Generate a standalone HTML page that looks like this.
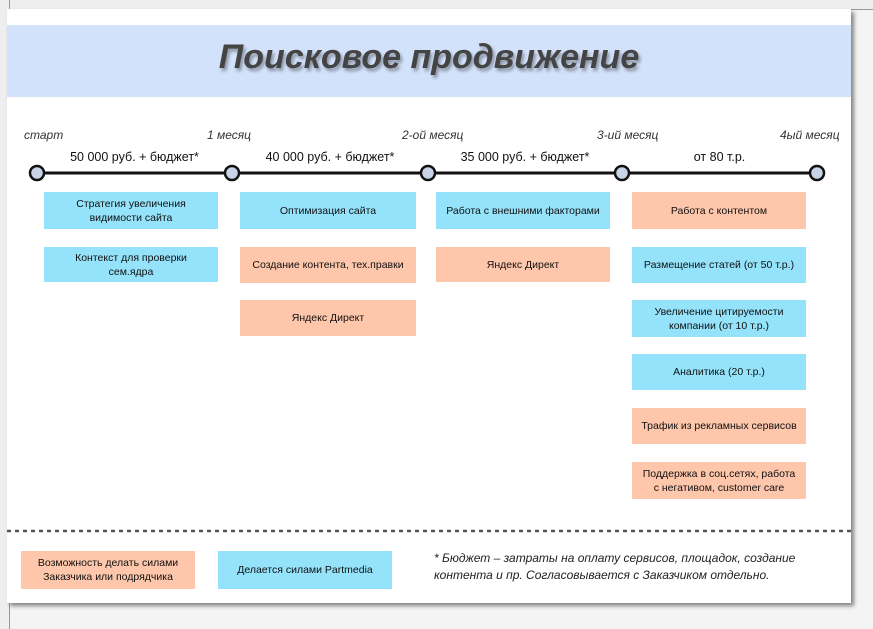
<!DOCTYPE html>
<html><head><meta charset="utf-8"><style>
body{margin:0;width:873px;height:629px;background:#f4f4f4;position:relative;overflow:hidden;font-family:"Liberation Sans","DejaVu Sans",sans-serif;}
.a{position:absolute}
.page{left:7px;top:9px;width:844px;height:594px;background:#fff;box-shadow:3px 3px 4px rgba(0,0,0,.45)}
.band{left:7px;top:25px;width:844px;height:72px;background:#d3e2fb}
.title{left:7px;top:38px;width:844px;text-align:center;font-size:34px;font-weight:bold;font-style:italic;color:#444;text-shadow:2px 3px 3px rgba(0,0,0,.35);letter-spacing:0}
.b{position:absolute;display:flex;align-items:center;justify-content:center;text-align:center;font-size:10.5px;color:#111;line-height:14px}
.bl{background:#94e3fb}.pe{background:#fec6ab}
.lab{position:absolute;font-size:12px;font-style:italic;color:#333}
.pr{position:absolute;font-size:12.5px;color:#111;text-align:center}
</style></head><body>
<div class="a" style="left:0;top:0;width:873px;height:9px;background:#eee;border-bottom:1px solid #999"></div>
<div class="a" style="left:0;top:0;width:9px;height:629px;background:#eee;border-right:1px solid #999"></div>
<div class="a page"></div>
<div class="a band"></div>
<div class="a title">Поисковое продвижение</div>

<div class="lab" style="left:24px;top:128px">старт</div>
<div class="lab" style="left:207px;top:128px">1 месяц</div>
<div class="lab" style="left:402px;top:128px">2-ой месяц</div>
<div class="lab" style="left:597px;top:128px">3-ий месяц</div>
<div class="lab" style="left:780px;top:128px">4ый месяц</div>

<div class="pr" style="left:37px;width:195px;top:150px">50 000 руб. + бюджет*</div>
<div class="pr" style="left:232px;width:196px;top:150px">40 000 руб. + бюджет*</div>
<div class="pr" style="left:428px;width:194px;top:150px">35 000 руб. + бюджет*</div>
<div class="pr" style="left:622px;width:195px;top:150px">от 80 т.р.</div>

<svg class="a" style="left:0;top:0" width="873" height="629">
<line x1="37" y1="173" x2="817" y2="173" stroke="#111" stroke-width="3"/>
<g fill="#c9d3e8" stroke="#111" stroke-width="2.5">
<circle cx="37" cy="173" r="7"/><circle cx="232" cy="173" r="7"/><circle cx="428" cy="173" r="7"/><circle cx="622" cy="173" r="7"/><circle cx="817" cy="173" r="7"/>
</g>
<line x1="7" y1="531" x2="851" y2="531" stroke="#555" stroke-width="2.5" stroke-dasharray="4,4"/>
</svg>

<div class="b bl" style="left:44px;top:192px;width:174px;height:37px">Стратегия увеличения<br>видимости сайта</div>
<div class="b bl" style="left:44px;top:247px;width:174px;height:35px">Контекст для проверки<br>сем.ядра</div>

<div class="b bl" style="left:240px;top:192px;width:176px;height:37px">Оптимизация сайта</div>
<div class="b pe" style="left:240px;top:247px;width:176px;height:36px">Создание контента, тех.правки</div>
<div class="b pe" style="left:240px;top:300px;width:176px;height:36px">Яндекс Директ</div>

<div class="b bl" style="left:436px;top:192px;width:174px;height:37px">Работа с внешними факторами</div>
<div class="b pe" style="left:436px;top:247px;width:174px;height:35px">Яндекс Директ</div>

<div class="b pe" style="left:632px;top:192px;width:174px;height:37px">Работа с контентом</div>
<div class="b bl" style="left:632px;top:247px;width:174px;height:36px">Размещение статей (от 50 т.р.)</div>
<div class="b bl" style="left:632px;top:300px;width:174px;height:37px">Увеличение цитируемости<br>компании (от 10 т.р.)</div>
<div class="b bl" style="left:632px;top:354px;width:174px;height:36px">Аналитика (20 т.р.)</div>
<div class="b pe" style="left:632px;top:408px;width:174px;height:36px">Трафик из рекламных сервисов</div>
<div class="b pe" style="left:632px;top:462px;width:174px;height:37px">Поддержка в соц.сетях, работа<br>с негативом, customer care</div>

<div class="b pe" style="left:21px;top:551px;width:174px;height:38px">Возможность делать силами<br>Заказчика или подрядчика</div>
<div class="b bl" style="left:218px;top:551px;width:174px;height:38px">Делается силами Partmedia</div>
<div class="a" style="left:434px;top:550px;font-size:12px;font-style:italic;color:#222;line-height:17px">* Бюджет – затраты на оплату сервисов, площадок, создание<br>контента и пр. Согласовывается с Заказчиком отдельно.</div>
</body></html>
